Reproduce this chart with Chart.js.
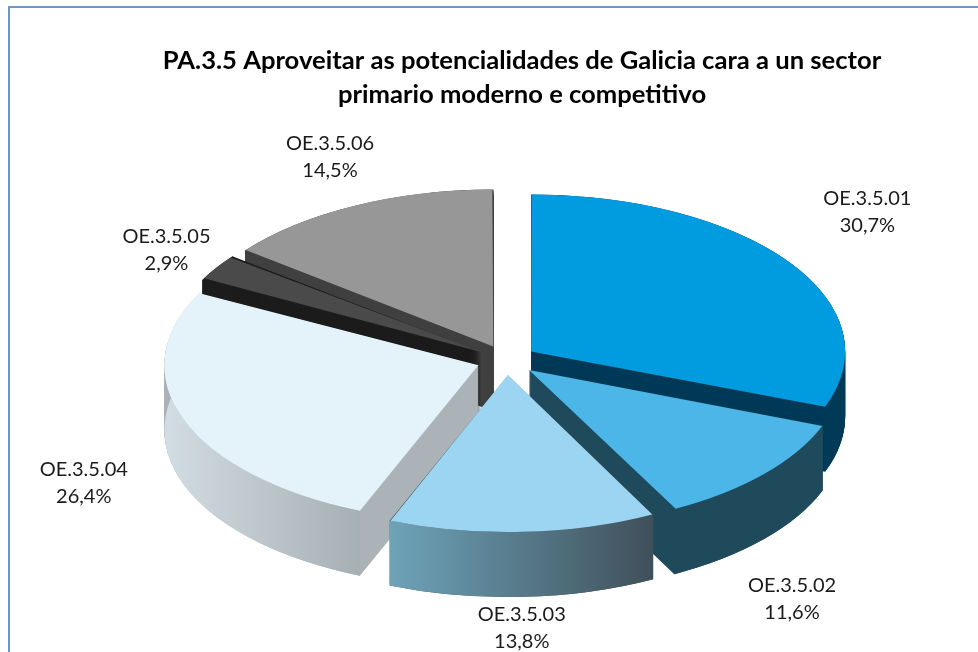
<!DOCTYPE html>
<html>
<head>
<meta charset="utf-8">
<style>
html,body{margin:0;padding:0;background:#fff;width:978px;height:652px;overflow:hidden}
#frame{position:absolute;left:8px;top:6px;width:1100px;height:800px;border:2px solid #6c95c9;box-sizing:border-box}
canvas{position:absolute;left:0;top:0}
</style>
<script src="https://cdn.jsdelivr.net/npm/chart.js@4/dist/chart.umd.min.js"></script>
</head>
<body>
<div id="frame"></div>
<canvas id="c" width="1044" height="652"></canvas>
<script>
const categories = ['OE.3.5.01','OE.3.5.02','OE.3.5.03','OE.3.5.04','OE.3.5.05','OE.3.5.06'];
const values = [30.7,11.6,13.8,26.4,2.9,14.5];
const topColors = ['#009cdf','#4db6e8','#9bd5f2','#e4f2f9','#4a4a4a','#979797'];
const radialWallColors = ['#003a57','#1f4a5c','#40535e','#abb3b7','#1c1c1c','#404040'];
const outerWallStart = ['#003a57','#1f4a5c','#6ea3b9','#d2dde3','#1c1c1c','#404040'];
const outerWallEnd = ['#003a57','#1f4a5c','#3f505a','#a6afb4','#1c1c1c','#404040'];
const titleLines = ['PA.3.5 Aproveitar as potencialidades de Galicia cara a un sector','primario moderno e competitivo'];

const TILT = 0.5, DEPTH = 65, RADIUS = 314;
const pseudo3d = {
  id:'pseudo3d',
  afterLayout(chart){
    // the title stays centred on the whole canvas, the pie on its padded area
    chart.titleBlock.right = chart.width;
  },
  beforeDatasetsDraw(chart){
    const ctx = chart.ctx, arcs = chart.getDatasetMeta(0).data;
    const cx = arcs[0].x, cy = arcs[0].y;
    // Chart.js widens offset arcs by offset*(1-sin(sweep)); cancel that so all slices share one radius
    arcs.forEach(a=>{
      const off=(a.options.offset||0)/4, sweep=a.endAngle-a.startAngle;
      a.outerRadius = RADIUS - off*(1-Math.sin(Math.min(Math.PI,sweep)));
    });
    ctx.save();
    ctx.translate(cx,cy); ctx.scale(1,TILT); ctx.translate(-cx,-cy);
    const order = arcs.map((a,i)=>i).sort((p,q)=>{
      const m=a=>(a.startAngle+a.endAngle)/2;
      return Math.sin(m(arcs[p]))-Math.sin(m(arcs[q]));
    });
    const D = DEPTH/TILT;
    order.forEach(i=>{
      const a = arcs[i], off=(a.options.offset||0)/4, m=(a.startAngle+a.endAngle)/2;
      const x=a.x+Math.cos(m)*off, y=a.y+Math.sin(m)*off, R=RADIUS;
      ctx.fillStyle = radialWallColors[i];
      for(let d=D;d>0;d-=1.5){
        ctx.beginPath(); ctx.moveTo(x,y+d); ctx.arc(x,y+d,R,a.startAngle,a.endAngle); ctx.closePath(); ctx.fill();
      }
      let x0=Infinity,x1=-Infinity;
      for(let k=0;k<=40;k++){const t=a.startAngle+(a.endAngle-a.startAngle)*k/40,px=x+R*Math.cos(t);x0=Math.min(x0,px);x1=Math.max(x1,px);}
      const g=ctx.createLinearGradient(x0,0,x1,0);
      g.addColorStop(0,outerWallStart[i]); g.addColorStop(1,outerWallEnd[i]);
      ctx.fillStyle=g;
      ctx.beginPath(); ctx.arc(x,y,R,a.startAngle,a.endAngle); ctx.arc(x,y+D,R,a.endAngle,a.startAngle,true); ctx.closePath(); ctx.fill();
    });
  },
  afterDatasetsDraw(chart){ chart.ctx.restore(); },
  afterDraw(chart,args,opts){
    const ctx = chart.ctx, arcs = chart.getDatasetMeta(0).data;
    ctx.save();
    ctx.font = opts.font; ctx.fillStyle = opts.color; ctx.textAlign='center'; ctx.textBaseline='middle';
    arcs.forEach((a,i)=>{
      const m=(a.startAngle+a.endAngle)/2, r=RADIUS+(a.options.offset||0)/4;
      const lx=a.x+r*Math.cos(m)+opts.nudge[i][0], ly=a.y+r*TILT*Math.sin(m)+opts.nudge[i][1];
      ctx.fillText(categories[i],lx,ly-opts.lineHeight/2);
      ctx.fillText(values[i].toFixed(1).replace('.',',')+'%',lx,ly+opts.lineHeight/2);
    });
    ctx.restore();
  }
};

new Chart(document.getElementById('c'),{
  type:'pie',
  data:{labels:categories,datasets:[{data:values,backgroundColor:topColors,borderWidth:0,offset:120,clip:false}]},
  options:{
    responsive:false,animation:false,events:[],
    radius:RADIUS,
    layout:{padding:{left:0,right:31,top:0,bottom:54}},
    plugins:{
      legend:{display:false},tooltip:{enabled:false},
      title:{display:true,text:titleLines,color:'#000',font:{family:'Lato',weight:'bold',size:25.6,lineHeight:1.35},padding:{top:43,bottom:10}},
      pseudo3d:{font:'20px Lato',color:'#1a1a1a',lineHeight:27,
        nudge:[[78,-50],[28,125],[-1,96],[-100,63],[-50,-18],[-25,-49]]}
    }
  },
  plugins:[pseudo3d]
});
</script>
</body>
</html>
